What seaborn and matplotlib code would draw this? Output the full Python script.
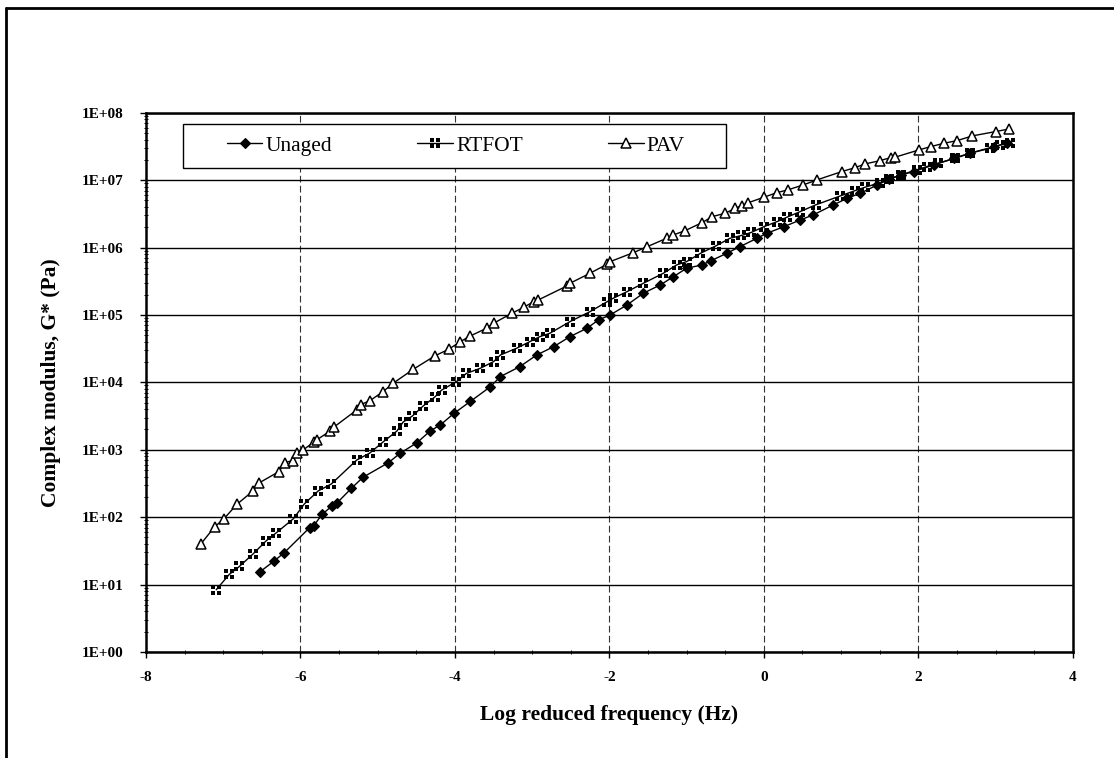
import numpy as np
import matplotlib
matplotlib.use("Agg")
import matplotlib.pyplot as plt
import seaborn as sns
from matplotlib.path import Path
from matplotlib.patches import Rectangle
from matplotlib.lines import Line2D
from matplotlib.ticker import LogLocator, FuncFormatter, MultipleLocator, NullFormatter

# log reduced frequency (Hz) and complex modulus G* (Pa)
unaged_x = [-6.52, -6.34, -6.21, -5.88, -5.83, -5.72, -5.59, -5.53, -5.34, -5.19,
            -4.86, -4.71, -4.49, -4.32, -4.19, -4.01, -3.80, -3.54, -3.41, -3.16,
            -2.94, -2.72, -2.51, -2.29, -2.14, -1.99, -1.77, -1.56, -1.34, -1.17,
            -1.00, -0.80, -0.69, -0.48, -0.31, -0.09, 0.04, 0.26, 0.47, 0.64,
            0.90, 1.08, 1.25, 1.47, 1.62, 1.77, 1.94, 2.20, 2.46, 2.67,
            2.98, 3.15]
unaged_g = [15.6, 22.4, 29.7, 70, 74, 110, 147, 161, 268, 391,
            644, 887, 1275, 1900, 2330, 3480, 5210, 8630, 12200, 17100,
            25500, 33900, 47700, 63500, 84400, 1.00e5, 1.41e5, 2.10e5, 2.79e5, 3.70e5,
            4.93e5, 5.52e5, 6.32e5, 8.22e5, 1.03e6, 1.37e6, 1.63e6, 2.04e6, 2.56e6, 3.05e6,
            4.29e6, 5.38e6, 6.40e6, 8.49e6, 1.03e7, 1.19e7, 1.34e7, 1.68e7, 2.11e7, 2.51e7,
            3.14e7, 3.52e7]

rtfot_x = [-7.09, -6.92, -6.79, -6.62, -6.44, -6.31, -6.09, -5.95, -5.77, -5.60,
           -5.27, -5.10, -4.93, -4.75, -4.67, -4.55, -4.41, -4.26, -4.17, -3.98,
           -3.85, -3.67, -3.50, -3.41, -3.20, -3.03, -2.90, -2.77, -2.51, -2.25,
           -2.03, -1.95, -1.77, -1.56, -1.30, -1.13, -1.00, -0.82, -0.62, -0.44,
           -0.29, -0.16, 0.00, 0.17, 0.30, 0.47, 0.67, 0.99, 1.18, 1.31,
           1.51, 1.62, 1.77, 1.98, 2.11, 2.26, 2.48, 2.67, 2.93, 3.06,
           3.19]
rtfot_g = [8.4, 14.2, 18.6, 28, 45, 59, 95, 157, 245, 311,
           706, 897, 1306, 1900, 2580, 3170, 4470, 6070, 7710, 10240,
           13600, 16200, 20300, 25500, 32100, 40200, 47700, 53500, 79600, 1.12e5,
           1.57e5, 1.77e5, 2.22e5, 2.95e5, 4.16e5, 5.52e5, 6.18e5, 8.22e5, 1.06e6, 1.37e6,
           1.51e6, 1.68e6, 2.04e6, 2.42e6, 2.82e6, 3.41e6, 4.29e6, 5.83e6, 6.98e6, 7.85e6,
           9.18e6, 1.03e7, 1.19e7, 1.42e7, 1.59e7, 1.78e7, 2.11e7, 2.51e7, 2.97e7, 3.33e7,
           3.52e7]

pav_x = [-7.29, -7.11, -6.99, -6.82, -6.62, -6.53, -6.28, -6.20, -6.10, -6.04,
         -5.97, -5.83, -5.79, -5.62, -5.56, -5.27, -5.22, -5.10, -4.93, -4.80,
         -4.54, -4.26, -4.08, -3.93, -3.80, -3.59, -3.50, -3.26, -3.11, -2.98,
         -2.92, -2.55, -2.51, -2.25, -2.03, -1.99, -1.69, -1.51, -1.26, -1.17,
         -1.02, -0.80, -0.67, -0.50, -0.37, -0.28, -0.20, 0.00, 0.17, 0.31,
         0.51, 0.69, 1.01, 1.18, 1.31, 1.51, 1.64, 1.70, 2.01, 2.16,
         2.33, 2.50, 2.70, 3.00, 3.18]
pav_g = [40, 72, 95, 156, 242, 325, 473, 644, 693, 906,
         986, 1290, 1400, 1880, 2200, 3900, 4670, 5360, 7280, 9700,
         15600, 24700, 31000, 40200, 48800, 63500, 75300, 1.06e5, 1.30e5, 1.57e5,
         1.67e5, 2.69e5, 2.95e5, 4.16e5, 5.65e5, 6.18e5, 8.39e5, 1.03e6, 1.37e6, 1.54e6,
         1.78e6, 2.34e6, 2.87e6, 3.23e6, 3.83e6, 4.19e6, 4.63e6, 5.57e6, 6.53e6, 7.16e6,
         8.49e6, 1.01e7, 1.34e7, 1.53e7, 1.74e7, 1.95e7, 2.16e7, 2.19e7, 2.81e7, 3.14e7,
         3.52e7, 3.85e7, 4.53e7, 5.25e7, 5.75e7]

x_ticks = [-8, -6, -4, -2, 0, 2, 4]

# RTFOT marker: square split into four small blocks
verts, codes = [], []
for cx, cy in [(-1, 0.15), (0.15, 0.15), (-1, -1), (0.15, -1)]:
    verts += [(cx, cy), (cx + 0.85, cy), (cx + 0.85, cy + 0.85), (cx, cy + 0.85), (cx, cy)]
    codes += [Path.MOVETO, Path.LINETO, Path.LINETO, Path.LINETO, Path.CLOSEPOLY]
split_square = Path(verts, codes)

sns.set_theme(style="white")
plt.rcParams['font.family'] = ['Liberation Serif', 'DejaVu Serif']

fig, ax = plt.subplots(figsize=(11.14, 7.58), dpi=100)
fig.subplots_adjust(left=0.131, right=0.963, top=0.8513, bottom=0.1398)

series = [
    ("Unaged", unaged_x, unaged_g, dict(marker="D", markersize=5, markerfacecolor="black", markeredgewidth=0.8)),
    ("RTFOT", rtfot_x, rtfot_g, dict(marker=split_square, markersize=6.5, markerfacecolor="black", markeredgewidth=0)),
    ("PAV", pav_x, pav_g, dict(marker="^", markersize=7.5, markerfacecolor="white", markeredgewidth=1.1)),
]
for name, xs, gs, style in series:
    sns.lineplot(x=xs, y=gs, ax=ax, color="black", linewidth=1.0, markeredgecolor="black",
                 label=name, zorder=4, **style)

ax.set_yscale("log")
ax.set_xlim(-8, 4)
ax.set_ylim(1, 1e8)
ax.set_xticks(x_ticks)
ax.set_xticklabels([str(t) for t in x_ticks])
ax.xaxis.set_minor_locator(MultipleLocator(0.5))
ax.yaxis.set_major_locator(LogLocator(base=10, numticks=20))
ax.yaxis.set_minor_locator(LogLocator(base=10, subs=np.arange(2, 10), numticks=20))
ax.yaxis.set_major_formatter(FuncFormatter(lambda v, p: "1E+%02d" % int(round(np.log10(v)))))
ax.yaxis.set_minor_formatter(NullFormatter())

ax.grid(False)
ax.yaxis.grid(True, which="major", color="black", linewidth=1.0, linestyle="-")
ax.xaxis.grid(True, which="major", color="#333333", linewidth=0.8, linestyle=(0, (6, 3)))
ax.set_axisbelow(True)

for sp in ax.spines.values():
    sp.set_color("black")
    sp.set_linewidth(1.8)

tick_font = dict(family="Liberation Serif", weight="bold", size=11)
ax.tick_params(axis="x", which="major", direction="out", length=4, width=1, color="black", pad=10)
ax.tick_params(axis="y", which="major", direction="out", length=4, width=1, color="black", pad=12)
ax.tick_params(axis="both", which="minor", direction="inout", length=3, width=0.7, color="black")
ax.tick_params(axis="both", which="both", bottom=True, left=True, top=False, right=False)
for lab in ax.get_xticklabels() + ax.get_yticklabels():
    lab.set_fontproperties(tick_font)
    lab.set_color("black")

label_font = dict(family="Liberation Serif", weight="bold", size=15.5)
ax.set_xlabel("Log reduced frequency (Hz)", fontdict=label_font, color="black")
ax.set_ylabel("Complex modulus, G* (Pa)", fontdict=label_font, color="black")
ax.xaxis.set_label_coords(0.5, -0.098)
ax.yaxis.set_label_coords(-0.092, 0.5)

# legend box with white fill, entries spread evenly inside
ax.add_patch(Rectangle((0.0399, 0.8975), 0.586, 0.0815, transform=ax.transAxes,
                       facecolor="white", edgecolor="black", linewidth=1.0, zorder=5, clip_on=False))
handles, labels = ax.get_legend_handles_labels()
leg = ax.legend(handles, labels, ncol=3, loc="center", bbox_to_anchor=(0.0874, 0.898, 0.4942, 0.081),
                mode="expand", frameon=False, borderpad=0, borderaxespad=0, numpoints=1,
                handlelength=1.65, handletextpad=0.15,
                prop=dict(family="Liberation Serif", size=15.5))
leg.set_zorder(6)
for t in leg.get_texts():
    t.set_color("black")

# outer chart frame (left and top edges visible)
fig.add_artist(Line2D([6 / 1114, 6 / 1114], [0, 1 - 8 / 758], transform=fig.transFigure, color="black", linewidth=2))
fig.add_artist(Line2D([6 / 1114, 1], [1 - 8 / 758, 1 - 8 / 758], transform=fig.transFigure, color="black", linewidth=2))

fig.savefig("out.png", dpi=100, facecolor="white")
